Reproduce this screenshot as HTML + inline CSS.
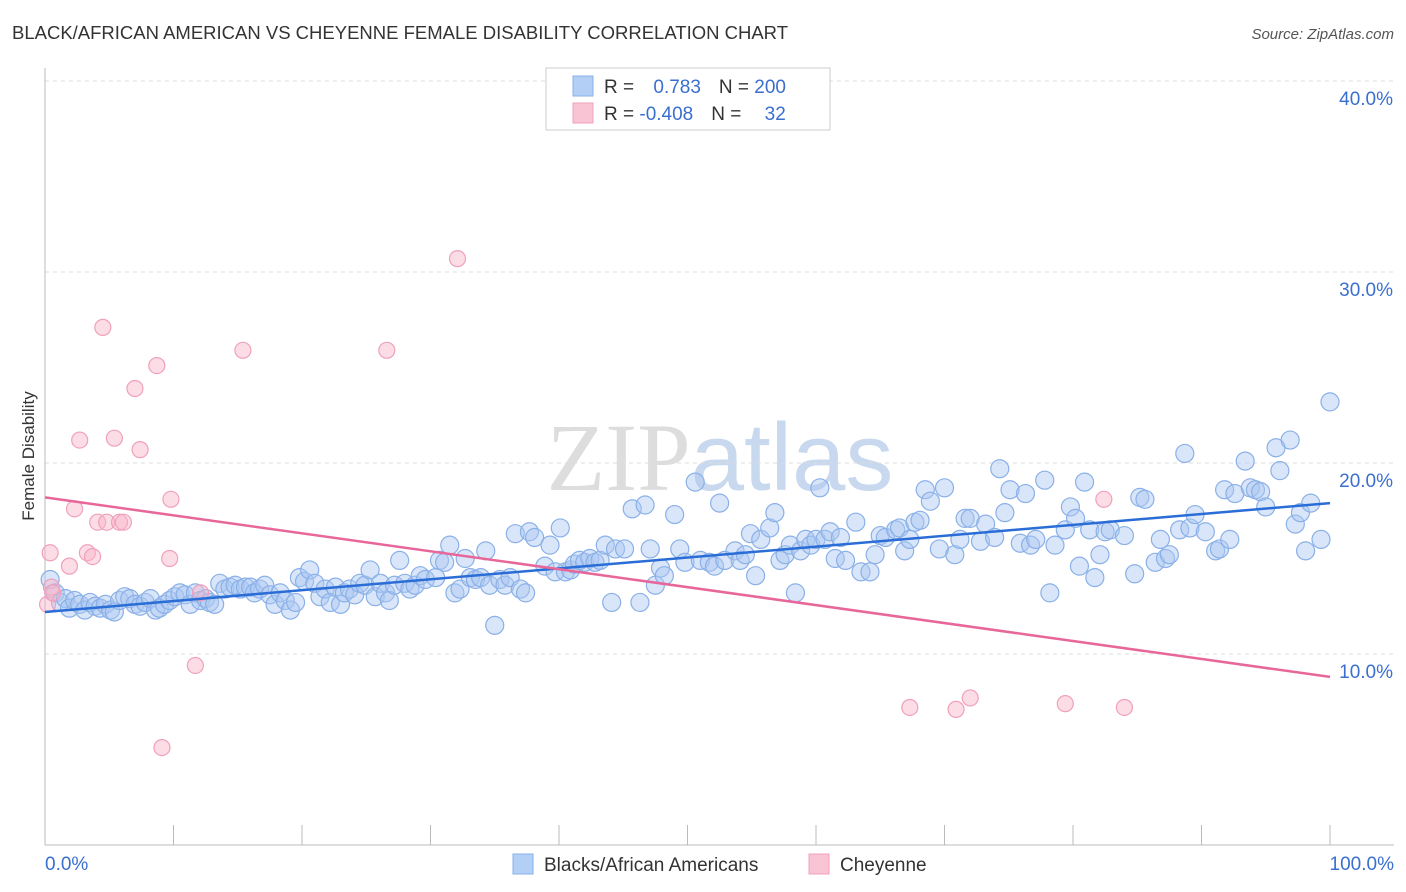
<!DOCTYPE html>
<html><head><meta charset="utf-8">
<style>
body{margin:0;background:#fff;font-family:"Liberation Sans",sans-serif;}
svg{display:block}
</style></head>
<body>
<svg id="chart" width="1406" height="892" viewBox="0 0 1406 892" xmlns="http://www.w3.org/2000/svg">
<text x="12" y="39" font-size="18.5" fill="#333" textLength="776" font-family="Liberation Sans, sans-serif">BLACK/AFRICAN AMERICAN VS CHEYENNE FEMALE DISABILITY CORRELATION CHART</text>
<text x="1394" y="39" font-size="15" fill="#555" text-anchor="end" font-style="italic">Source: ZipAtlas.com</text>
<text x="720" y="490" font-size="96" text-anchor="middle" fill="#ddd" font-family="Liberation Serif, serif">ZIP<tspan fill="#c8d8ee" font-family="Liberation Sans, sans-serif">atlas</tspan></text>
<g id="grid"></g>
<g id="axes"></g>
<g id="pts"></g>
<g id="trend"></g>
<text transform="translate(34,456) rotate(-90)" font-size="17" fill="#333" text-anchor="middle">Female Disability</text>
<g>
<rect x="546" y="68" width="284" height="62" fill="#fff" stroke="#ccc"/>
<rect x="573" y="76" width="20" height="20" fill="#b3cff5" stroke="#8ab0e8"/>
<rect x="573" y="103" width="20" height="20" fill="#f9c5d5" stroke="#f0a0bc"/>
<text x="604" y="93" font-size="19" fill="#333">R = <tspan fill="#3a6fd0" dx="14">0.783</tspan><tspan dx="18" fill="#333">N = </tspan><tspan fill="#3a6fd0">200</tspan></text>
<text x="604" y="120" font-size="19" fill="#333">R = <tspan fill="#3a6fd0">-0.408</tspan><tspan dx="18" fill="#333">N = </tspan><tspan fill="#3a6fd0" dx="18">32</tspan></text>
</g>
<g>
<rect x="513" y="854" width="20" height="20" fill="#b3cff5" stroke="#8ab0e8"/>
<text x="544" y="871" font-size="19" fill="#333">Blacks/African Americans</text>
<rect x="809" y="854" width="20" height="20" fill="#f9c5d5" stroke="#f0a0bc"/>
<text x="840" y="871" font-size="19" fill="#333">Cheyenne</text>
</g>
</svg>
<script>
const yTicks=[10,20,30,40];
const xTickLabels=["0.0%","100.0%"];
const blue=[[0.4,13.9],[0.8,13.2],[1.2,12.7],[1.6,12.9],[1.9,12.4],[2.3,12.8],[2.7,12.6],[3.1,12.3],[3.5,12.7],[3.9,12.5],[4.3,12.4],[4.7,12.6],[5.1,12.3],[5.4,12.2],[5.8,12.8],[6.2,13.0],[6.6,12.9],[7.0,12.6],[7.4,12.5],[7.8,12.7],[8.2,12.9],[8.6,12.3],[8.9,12.4],[9.3,12.6],[9.7,12.8],[10.1,13.0],[10.5,13.2],[10.9,13.1],[11.3,12.6],[11.7,13.2],[12.1,12.8],[12.5,12.9],[12.8,12.7],[13.2,12.6],[13.6,13.7],[14.0,13.4],[14.4,13.5],[14.8,13.6],[15.2,13.4],[15.6,13.5],[16.0,13.5],[16.3,13.2],[16.7,13.4],[17.1,13.6],[17.5,13.1],[17.9,12.6],[18.3,13.2],[18.7,12.8],[19.1,12.3],[19.5,12.7],[19.8,14.0],[20.2,13.8],[20.6,14.4],[21.0,13.7],[21.4,13.0],[21.8,13.4],[22.2,12.7],[22.6,13.5],[23.0,12.6],[23.3,13.2],[23.7,13.4],[24.1,13.1],[24.5,13.7],[24.9,13.6],[25.3,14.4],[25.7,13.0],[26.1,13.7],[26.5,13.2],[26.8,12.8],[27.2,13.6],[27.6,14.9],[28.0,13.7],[28.4,13.4],[28.8,13.6],[29.2,14.1],[29.6,13.9],[30.4,14.0],[30.7,14.9],[31.1,14.8],[31.5,15.7],[31.9,13.2],[32.3,13.4],[32.7,15.0],[33.1,14.0],[33.5,13.9],[33.9,14.0],[34.3,15.4],[34.6,13.6],[35.0,11.5],[35.4,13.9],[35.8,13.6],[36.2,14.0],[36.6,16.3],[37.0,13.4],[37.4,13.2],[37.7,16.4],[38.1,16.1],[38.9,14.6],[39.3,15.7],[39.7,14.3],[40.1,16.6],[40.5,14.3],[40.9,14.4],[41.2,14.7],[41.6,14.9],[42.0,14.8],[42.4,15.0],[42.8,14.8],[43.2,14.9],[43.6,15.7],[44.1,12.7],[44.4,15.5],[45.1,15.5],[45.7,17.6],[46.3,12.7],[46.7,17.8],[47.1,15.5],[47.5,13.6],[47.9,14.5],[48.2,14.1],[49.0,17.3],[49.4,15.5],[49.8,14.8],[50.6,19.0],[51.0,14.9],[51.7,14.8],[52.1,14.6],[52.5,17.9],[52.9,14.9],[53.7,15.4],[54.1,14.9],[54.5,15.2],[54.9,16.3],[55.3,14.1],[55.7,16.0],[56.4,16.6],[56.8,17.4],[57.2,14.9],[57.6,15.2],[58.0,15.7],[58.4,13.2],[58.8,15.4],[59.2,16.0],[59.6,15.7],[60.0,16.0],[60.3,18.7],[60.7,16.0],[61.1,16.4],[61.5,15.0],[61.9,16.1],[62.3,14.9],[63.1,16.9],[63.5,14.3],[64.2,14.3],[64.6,15.2],[65.0,16.2],[65.4,16.1],[66.2,16.5],[66.5,16.6],[66.9,15.4],[67.3,16.0],[67.7,16.9],[68.1,17.0],[68.5,18.6],[68.9,18.0],[69.6,15.5],[70.0,18.7],[70.8,15.2],[71.2,16.0],[71.6,17.1],[72.0,17.1],[72.8,15.9],[73.2,16.8],[73.9,16.1],[74.3,19.7],[74.7,17.4],[75.1,18.6],[75.9,15.8],[76.3,18.4],[76.7,15.7],[77.1,16.0],[77.8,19.1],[78.2,13.2],[78.6,15.7],[79.4,16.5],[79.8,17.7],[80.2,17.1],[80.5,14.6],[80.9,19.0],[81.3,16.5],[81.7,14.0],[82.1,15.2],[82.5,16.4],[82.9,16.5],[84.0,16.2],[84.8,14.2],[85.2,18.2],[85.6,18.1],[86.4,14.8],[86.8,16.0],[87.2,15.0],[87.5,15.2],[88.3,16.5],[88.7,20.5],[89.1,16.6],[89.5,17.3],[90.3,16.4],[91.1,15.4],[91.4,15.5],[92.2,16.0],[91.8,18.6],[92.6,18.4],[93.4,20.1],[93.8,18.7],[94.2,18.6],[94.6,18.5],[95.0,17.7],[95.8,20.8],[96.1,19.6],[96.9,21.2],[97.3,16.8],[97.7,17.4],[98.1,15.4],[98.5,17.9],[99.3,16.0],[100,23.2]];
const pink=[[0.4,15.3],[0.5,13.5],[0.2,12.6],[0.6,13.2],[1.9,14.6],[2.3,17.6],[2.7,21.2],[3.3,15.3],[3.7,15.1],[4.1,16.9],[4.5,27.1],[4.8,16.9],[5.4,21.3],[5.8,16.9],[6.1,16.9],[7.0,23.9],[7.4,20.7],[8.7,25.1],[9.1,5.1],[9.7,15.0],[9.8,18.1],[11.7,9.4],[12.1,13.2],[15.4,25.9],[26.6,25.9],[32.1,30.7],[67.3,7.2],[70.9,7.1],[72.0,7.7],[79.4,7.4],[82.4,18.1],[84.0,7.2]];
const blueTrend=[12.2,17.9];
const pinkTrend=[18.2,8.8];

const NS="http://www.w3.org/2000/svg";
const X=v=>45+v*12.85, Y=v=>845-v*19.1;
function mk(tag,attrs,parent){const e=document.createElementNS(NS,tag);for(const k in attrs)e.setAttribute(k,attrs[k]);document.getElementById(parent).appendChild(e);return e;}
yTicks.forEach(t=>{
  const g=mk('line',{x1:45,x2:1394,y1:Y(t),y2:Y(t),stroke:'#ddd','stroke-dasharray':'4,4'},'grid');
  
  
  const l=mk('text',{x:1393,y:Y(t)+24,'font-size':19,fill:'#3a6fd0','text-anchor':'end'},'grid');
  l.textContent=t.toFixed(1)+'%';
  
  
});
const ax=mk('line',{x1:45,x2:45,y1:68,y2:845,stroke:'#bbb'},'axes');


const bx=mk('line',{x1:45,x2:1394,y1:845,y2:845,stroke:'#bbb'},'axes');


for(let i=0;i<=10;i++){
  const t=mk('line',{x1:X(i*10),x2:X(i*10),y1:825,y2:845,stroke:'#bbb'},'axes');
  
  
}
[[0,'start',45],[100,'end',1394]].forEach((d,i)=>{
  const t=mk('text',{x:d[2],y:870,'font-size':19,fill:'#3a6fd0','text-anchor':d[1]},'axes');
  t.textContent=xTickLabels[i];
  
  
});
blue.forEach(p=>{
  const c=mk('circle',{cx:X(p[0]),cy:Y(p[1]),r:9,fill:'rgba(170,200,242,0.45)',stroke:'#8ab0e8','stroke-width':1.2},'pts');
  
  
});
pink.forEach(p=>{
  const c=mk('circle',{cx:X(p[0]),cy:Y(p[1]),r:8,fill:'rgba(248,180,200,0.45)',stroke:'#f0a0bc','stroke-width':1.2},'pts');
  
  
});
const bl=mk('line',{x1:X(0),y1:Y(blueTrend[0]),x2:X(100),y2:Y(blueTrend[1]),stroke:'#2a6dd6','stroke-width':2.5},'trend');


const pl=mk('line',{x1:X(0),y1:Y(pinkTrend[0]),x2:X(100),y2:Y(pinkTrend[1]),stroke:'#e8679a','stroke-width':2.5},'trend');


</script>
</body></html>
